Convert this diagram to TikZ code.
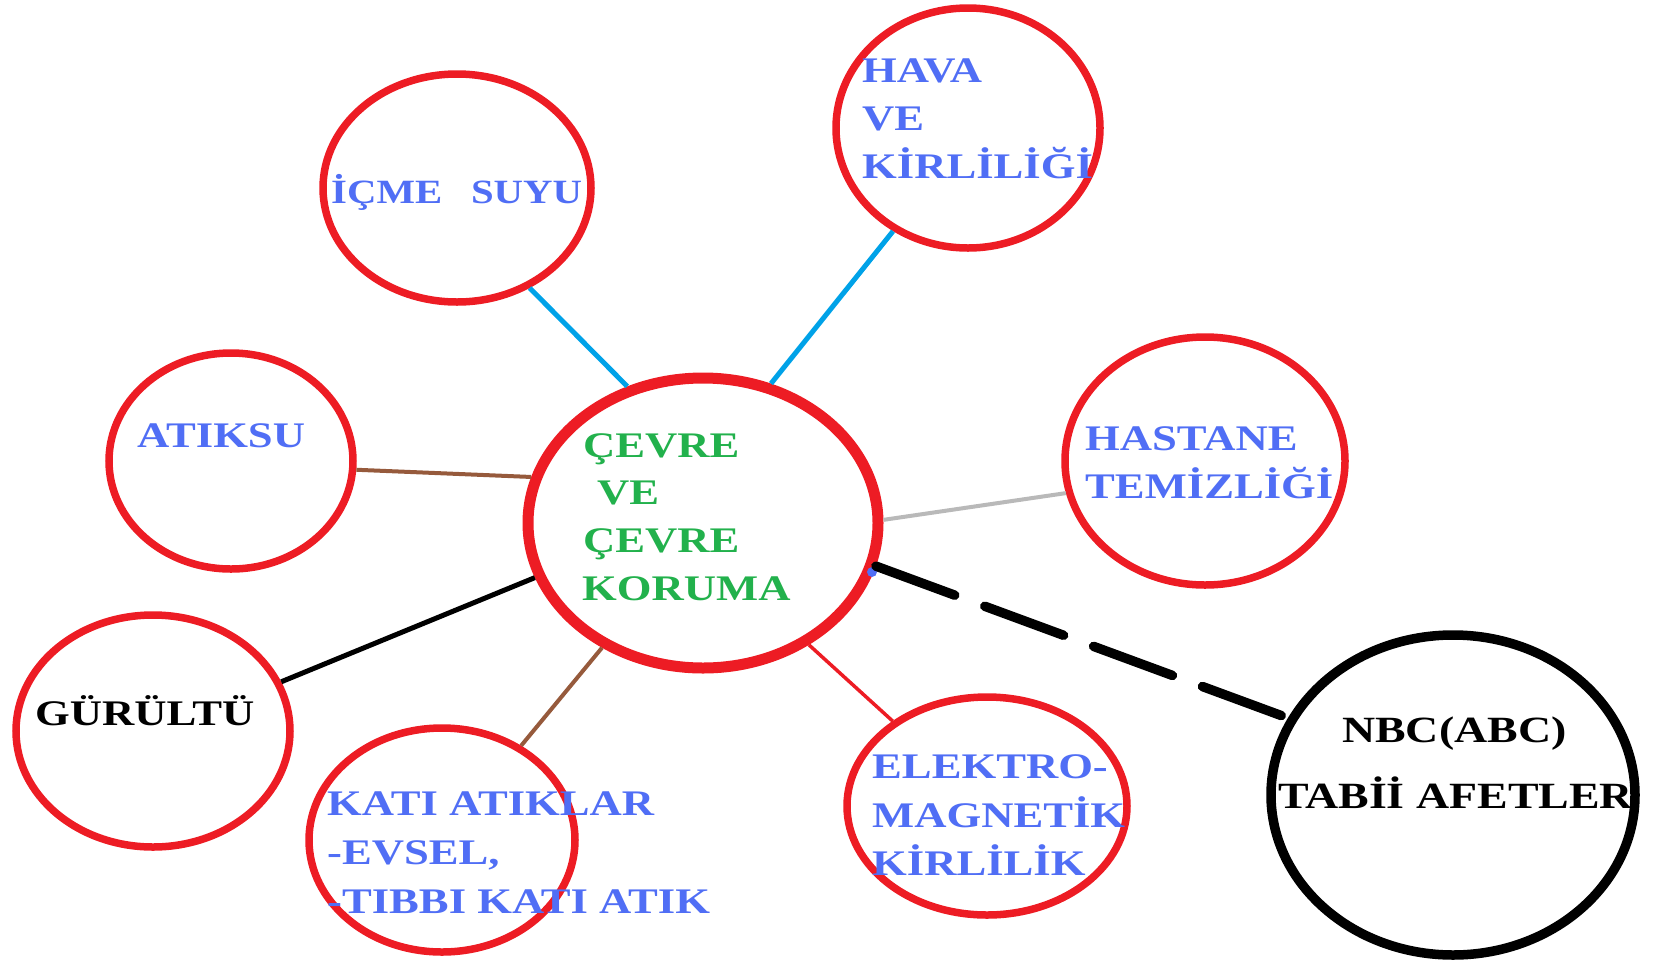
\documentclass[tikz,border=0pt]{standalone}
\usepackage{fontspec}
\setmainfont{Liberation Serif}
\usepackage{graphicx}
\usetikzlibrary{shapes.geometric}
\definecolor{ringred}{RGB}{237,28,36}
\definecolor{txtblue}{RGB}{80,110,245}
\definecolor{txtgreen}{RGB}{34,177,76}
\definecolor{linkcyan}{RGB}{0,162,232}
\definecolor{linkbrown}{RGB}{150,90,60}
\definecolor{linkgrey}{RGB}{185,185,185}
\newcommand{\wx}[1]{\scalebox{1.24}[1]{#1}}
\begin{document}
\begin{tikzpicture}[x=1pt,y=-1pt,
  ring/.style={ellipse, draw=ringred, line width=7.5pt, inner sep=0pt},
  lbl/.style={anchor=base west, inner sep=0pt, font=\fontsize{36}{43}\selectfont\bfseries},
  bluetxt/.style={lbl, text=txtblue},
  greentxt/.style={lbl, text=txtgreen},
  blacktxt/.style={lbl, text=black},
  link/.style={line width=4pt},
]
\useasboundingbox (0,0) rectangle (1655,962);
% rings
\node[ring, line width=11pt, minimum width=350, minimum height=290] (core) at (703,523) {};
\node[ring, minimum width=268, minimum height=228] (icme) at (457,188) {};
\node[ring, minimum width=264, minimum height=240] (hava) at (968,128) {};
\node[ring, minimum width=244, minimum height=216] (atiksu) at (231,461) {};
\node[ring, minimum width=280, minimum height=248] (hastane) at (1205,461) {};
\node[ring, minimum width=274, minimum height=232] (gurultu) at (153,731) {};
\node[ring, minimum width=266, minimum height=224] (kati) at (442,840) {};
\node[ring, minimum width=280, minimum height=218] (elektro) at (987,806) {};
\node[ring, draw=black, line width=9.5pt, minimum width=364, minimum height=320] (nbc) at (1453,795) {};
% connectors
\draw[link, linkcyan, line width=5pt] (icme.-54) -- (core.119);
\draw[link, linkcyan, line width=5pt] (hava.234) -- (core.64);
\draw[link, linkbrown] (atiksu.-4) -- (core.165);
\draw[link, linkgrey] (hastane.193) -- (core.1);
\draw[link, black, line width=5pt] (gurultu.21) -- (core.198);
\draw[link, linkbrown] (kati.50) -- (core.231);
\draw[link, ringred, line width=3.5pt] (elektro.138) -- (core.-49);
\node[circle, fill=txtblue, inner sep=0pt, minimum size=10pt] (dot) at (872,572) {};
\draw[black, line width=9.5pt, line cap=round, dash pattern=on 84pt off 32pt] (core.-14) -- (nbc.155);
% texts
\node[greentxt] (c1) at (583,457) {\wx{ÇEVRE}};
\node[greentxt] (c2) at (597,504) {\wx{VE}};
\node[greentxt] (c3) at (583,552) {\wx{ÇEVRE}};
\node[greentxt] (c4) at (582,600) {\wx{KORUMA}};
\node[bluetxt, font=\fontsize{34}{41}\selectfont\bfseries] (t1) at (331,203) {\scalebox{1.2}[1]{İÇME\hspace{24pt}SUYU}};
\node[bluetxt] (h1) at (862,82) {\wx{HAVA}};
\node[bluetxt] (h2) at (862,130) {\wx{VE}};
\node[bluetxt] (h3) at (862,178) {\wx{KİRLİLİĞİ}};
\node[bluetxt] (a1) at (137,447) {\wx{ATIKSU}};
\node[bluetxt] (s1) at (1085,450) {\wx{HASTANE}};
\node[bluetxt] (s2) at (1085,498) {\wx{TEMİZLİĞİ}};
\node[blacktxt] (g1) at (35,725) {\wx{GÜRÜLTÜ}};
\node[bluetxt] (k1) at (327,815) {\wx{KATI ATIKLAR}};
\node[bluetxt] (k2) at (327,864) {\wx{-EVSEL,}};
\node[bluetxt] (k3) at (327,913) {\wx{-TIBBI KATI ATIK}};
\node[bluetxt] (e1) at (872,778) {\wx{ELEKTRO-}};
\node[bluetxt] (e2) at (872,827) {\wx{MAGNETİK}};
\node[bluetxt] (e3) at (872,875) {\wx{KİRLİLİK}};
\node[blacktxt, font=\fontsize{37}{44}\selectfont\bfseries] (n1) at (1342,742) {\wx{NBC(ABC)}};
\node[blacktxt, font=\fontsize{37}{44}\selectfont\bfseries] (n2) at (1278,808) {\wx{TABİİ AFETLER}};
\end{tikzpicture}
\end{document}
